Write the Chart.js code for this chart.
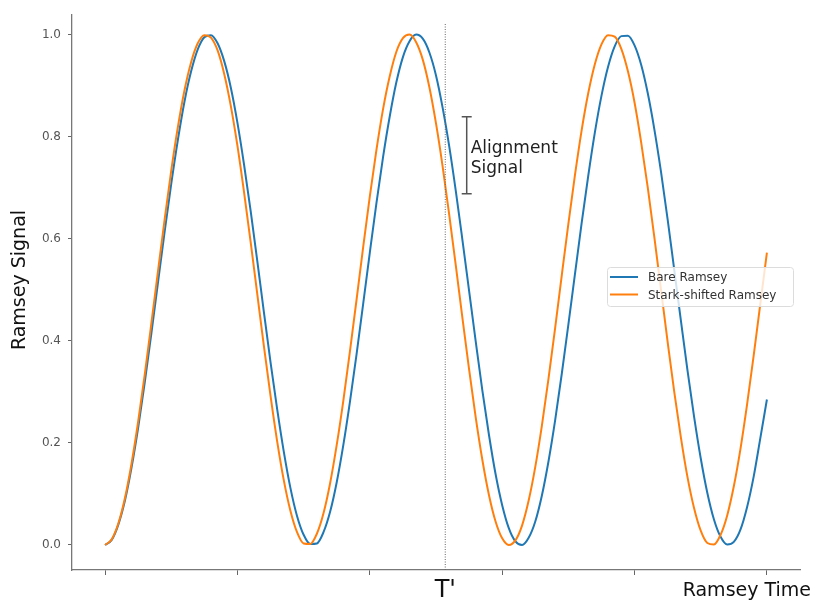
<!DOCTYPE html>
<html>
<head>
<meta charset="utf-8">
<script src="https://cdn.jsdelivr.net/npm/chart.js@4.4.1/dist/chart.umd.min.js"></script>
<style>
  html, body { margin: 0; padding: 0; background: #fff; }
  #wrap { width: 814px; height: 600px; position: relative; }
</style>
</head>
<body>
<div id="wrap"><canvas id="ramseyChart" width="814" height="600"></canvas></div>
<script>
// Ramsey time samples (x) and signals
const times = [0.00, 0.05, 0.10, 0.15, 0.20, 0.25, 0.30, 0.35, 0.40, 0.45,
  0.50, 0.55, 0.60, 0.65, 0.70, 0.75, 0.80, 0.85, 0.90, 0.95,
  1.00, 1.05, 1.10, 1.15, 1.20, 1.25, 1.30, 1.35, 1.40, 1.45,
  1.50, 1.55, 1.60, 1.65, 1.70, 1.75, 1.80, 1.85, 1.90, 1.95,
  2.00, 2.05, 2.10, 2.15, 2.20, 2.25, 2.30, 2.35, 2.40, 2.45,
  2.50, 2.55, 2.60, 2.65, 2.70, 2.75, 2.80, 2.85, 2.90, 2.95,
  3.00, 3.05, 3.10, 3.15, 3.20, 3.25, 3.30, 3.35, 3.40, 3.45,
  3.50, 3.55, 3.60, 3.65, 3.70, 3.75, 3.80, 3.85, 3.90, 3.95,
  4.00, 4.05, 4.10, 4.15, 4.20, 4.25, 4.30, 4.35, 4.40, 4.45,
  4.50, 4.55, 4.60, 4.65, 4.70, 4.75, 4.80, 4.85, 4.90, 4.95, 5.00];

const bareRamsey = [0.000, 0.010, 0.040, 0.087, 0.152, 0.230, 0.319, 0.415, 0.515, 0.614,
  0.708, 0.794, 0.869, 0.928, 0.971, 0.995, 0.999, 0.983, 0.948, 0.896,
  0.827, 0.745, 0.654, 0.556, 0.456, 0.358, 0.266, 0.183, 0.112, 0.057,
  0.020, 0.002, 0.003, 0.025, 0.065, 0.123, 0.196, 0.281, 0.374, 0.473,
  0.573, 0.670, 0.760, 0.839, 0.906, 0.956, 0.987, 1.000, 0.992, 0.965,
  0.920, 0.857, 0.781, 0.693, 0.597, 0.498, 0.399, 0.303, 0.216, 0.139,
  0.078, 0.033, 0.007, 0.000, 0.014, 0.046, 0.097, 0.164, 0.244, 0.335,
  0.432, 0.531, 0.630, 0.723, 0.808, 0.880, 0.937, 0.977, 0.997, 0.998,
  0.979, 0.941, 0.885, 0.814, 0.731, 0.638, 0.539, 0.440, 0.342, 0.251,
  0.170, 0.102, 0.050, 0.016, 0.001, 0.006, 0.030, 0.074, 0.134, 0.209, 0.285];

const starkRamsey = [0.000, 0.011, 0.042, 0.092, 0.160, 0.242, 0.335, 0.435, 0.537, 0.638,
  0.734, 0.819, 0.891, 0.946, 0.983, 0.999, 0.994, 0.969, 0.923, 0.860,
  0.782, 0.691, 0.593, 0.491, 0.389, 0.292, 0.203, 0.127, 0.067, 0.025,
  0.003, 0.002, 0.022, 0.062, 0.121, 0.196, 0.283, 0.380, 0.481, 0.584,
  0.683, 0.774, 0.854, 0.918, 0.966, 0.993, 1.000, 0.985, 0.951, 0.897,
  0.826, 0.742, 0.647, 0.547, 0.444, 0.344, 0.250, 0.167, 0.098, 0.046,
  0.013, 0.000, 0.009, 0.038, 0.087, 0.153, 0.234, 0.326, 0.425, 0.528,
  0.629, 0.725, 0.812, 0.885, 0.942, 0.981, 0.999, 0.996, 0.972, 0.928,
  0.867, 0.789, 0.700, 0.602, 0.500, 0.398, 0.300, 0.211, 0.133, 0.072,
  0.028, 0.004, 0.001, 0.020, 0.058, 0.115, 0.188, 0.275, 0.371, 0.472, 0.573];

const seriesLabels = ['Bare Ramsey', 'Stark-shifted Ramsey'];
const yTicks = [0.0, 0.2, 0.4, 0.6, 0.8, 1.0];
const xTicks = [0, 1, 2, 3, 4, 5];

const tPrime = 2.57;            // dotted marker
const tPrimeSpan = [-0.049, 1.023];
const alignAt = 2.732;          // alignment bracket position
const alignSpan = [0.688, 0.839];

const FONT = '"DejaVu Sans", sans-serif';

const overlay = {
    id: 'overlay',
    afterDraw(chart) {
        const ctx = chart.ctx, x = chart.scales.x, y = chart.scales.y;
        ctx.save();

        // alignment bracket
        const bx = x.getPixelForValue(alignAt);
        const b1 = y.getPixelForValue(alignSpan[1]), b0 = y.getPixelForValue(alignSpan[0]);
        ctx.strokeStyle = '#555'; ctx.lineWidth = 1.5;
        ctx.beginPath();
        ctx.moveTo(bx, b1); ctx.lineTo(bx, b0);
        ctx.moveTo(bx - 5, b1); ctx.lineTo(bx + 5, b1);
        ctx.moveTo(bx - 5, b0); ctx.lineTo(bx + 5, b0);
        ctx.stroke();

        ctx.fillStyle = '#222';
        ctx.font = '17px ' + FONT;
        ctx.textAlign = 'left'; ctx.textBaseline = 'alphabetic';
        ctx.fillText('Alignment', bx + 4, 153);
        ctx.fillText('Signal', bx + 4, 173);

        // axis titles
        ctx.fillStyle = '#111';
        ctx.font = '24px ' + FONT;
        ctx.textAlign = 'center';
        ctx.fillText("T'", x.getPixelForValue(tPrime), 597);

        ctx.font = '19px ' + FONT;
        ctx.textAlign = 'right';
        ctx.fillText('Ramsey Time', 811, 596);

        ctx.save();
        ctx.translate(25, 280);
        ctx.rotate(-Math.PI / 2);
        ctx.textAlign = 'center';
        ctx.fillText('Ramsey Signal', 0, 0);
        ctx.restore();

        // legend
        const lx = 607, ly = 267, lw = 186, lh = 39;
        ctx.fillStyle = 'rgba(255,255,255,0.8)';
        ctx.strokeStyle = '#dcdcdc'; ctx.lineWidth = 1;
        ctx.beginPath();
        ctx.roundRect(lx + 0.5, ly + 0.5, lw, lh, 3);
        ctx.fill(); ctx.stroke();
        ctx.font = '12px ' + FONT;
        ctx.textAlign = 'left'; ctx.textBaseline = 'middle';
        chart.data.datasets.slice(0, 2).forEach((ds, i) => {
            const ey = ly + 10 + i * 17.5;
            ctx.strokeStyle = ds.borderColor; ctx.lineWidth = 2;
            ctx.beginPath(); ctx.moveTo(lx + 3, ey); ctx.lineTo(lx + 31, ey); ctx.stroke();
            ctx.fillStyle = '#333';
            ctx.fillText(ds.label, lx + 41, ey + 1);
        });
        ctx.restore();
    }
};

new Chart(document.getElementById('ramseyChart'), {
    type: 'line',
    data: {
        datasets: [
            { label: seriesLabels[0], data: times.map((t, i) => ({ x: t, y: bareRamsey[i] })),
              borderColor: '#1f77b4', borderWidth: 2, pointRadius: 0, cubicInterpolationMode: 'monotone', fill: false, order: 2 },
            { label: seriesLabels[1], data: times.map((t, i) => ({ x: t, y: starkRamsey[i] })),
              borderColor: '#ff7f0e', borderWidth: 2, pointRadius: 0, cubicInterpolationMode: 'monotone', fill: false, order: 1 },
            { label: 'tprime', data: tPrimeSpan.map(v => ({ x: tPrime, y: v })),
              borderColor: '#666', borderWidth: 1, borderDash: [1, 1.5], pointRadius: 0, fill: false, order: 0 }
        ]
    },
    options: {
        responsive: false, animation: false, devicePixelRatio: 1,
        layout: { padding: { top: 9.5, right: 14, left: 0, bottom: 0 } },
        plugins: { legend: { display: false }, tooltip: { enabled: false } },
        scales: {
            x: {
                type: 'linear', min: -0.25, max: 5.25,
                afterBuildTicks: s => { s.ticks = xTicks.map(v => ({ value: v })); },
                afterFit: s => { s.height = 30; },
                grid: { drawOnChartArea: false, tickLength: 5, color: '#666', tickWidth: 1 },
                border: { color: '#777', width: 1.3 },
                ticks: { callback: () => '' }
            },
            y: {
                min: -0.049, max: 1.04,
                afterBuildTicks: s => { s.ticks = yTicks.map(v => ({ value: v })); },
                afterFit: s => { s.width = 72; },
                grid: { drawOnChartArea: false, tickLength: 4, color: '#666', tickWidth: 1 },
                border: { color: '#777', width: 1.3 },
                ticks: { padding: 7, color: '#555', font: { family: FONT, size: 12 },
                         callback: v => v.toFixed(1) }
            }
        }
    },
    plugins: [overlay]
});
</script>
</body>
</html>
